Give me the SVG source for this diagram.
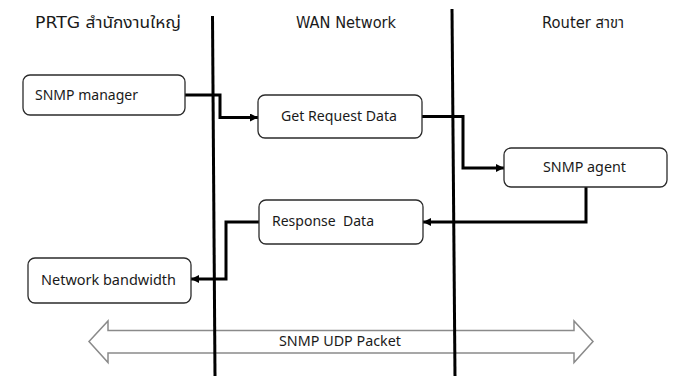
<svg xmlns="http://www.w3.org/2000/svg" width="675" height="376" viewBox="0 0 675 376">
  <style>
    .box { fill: #ffffff; stroke: #2b2b2b; stroke-width: 1.3; }
    .lbl { font-family: "Noto Sans", "Liberation Sans", sans-serif; font-size: 14px; fill: #1a1a1a; }
    .hdr { font-family: "DejaVu Sans", "Noto Sans Thai", "Noto Sans", sans-serif; font-size: 16px; fill: #1a1a1a; }
    .wire { fill: none; stroke: #000000; stroke-width: 3; }
    .lane { stroke: #000000; stroke-width: 3; }
  </style>
  <defs>
    <marker id="head" viewBox="0 0 10 10" refX="10" refY="5" markerWidth="9" markerHeight="8" markerUnits="userSpaceOnUse" orient="auto">
      <path d="M0,0 L10,5 L0,10 Z" fill="#000000"/>
    </marker>
  </defs>

  <rect width="675" height="376" fill="#ffffff"/>

  <!-- column headings -->
  <g id="headings">
    <text class="hdr" x="35" y="28" textLength="146" lengthAdjust="spacingAndGlyphs">PRTG สำนักงานใหญ่</text>
    <text class="hdr" x="296" y="28" textLength="100" lengthAdjust="spacingAndGlyphs">WAN Network</text>
    <text class="hdr" x="542" y="28" textLength="82" lengthAdjust="spacingAndGlyphs">Router สาขา</text>
  </g>

  <!-- UDP packet band -->
  <g id="udp-packet">
    <polygon points="89,341.5 108,321 108,330.5 574,330.5 574,321 593,341.5 574,362.5 574,353 108,353 108,362.5" fill="#ffffff" stroke="#8a8a8a" stroke-width="1.5"/>
    <text class="lbl" x="279" y="345.5" textLength="122" lengthAdjust="spacingAndGlyphs">SNMP UDP Packet</text>
  </g>

  <!-- lane dividers -->
  <g id="dividers">
    <line class="lane" x1="212.5" y1="16" x2="215" y2="376"/>
    <line class="lane" x1="452" y1="9" x2="455" y2="376"/>
  </g>

  <!-- connectors -->
  <g id="connectors">
    <path class="wire" d="M185,95 H220 V117.5 H258" marker-end="url(#head)"/>
    <path class="wire" d="M422,116.5 H463 V168 H504" marker-end="url(#head)"/>
    <path class="wire" d="M586,187 V222 H423" marker-end="url(#head)"/>
    <path class="wire" d="M259,222 H226 V279 H191" marker-end="url(#head)"/>
  </g>

  <g id="snmp-manager">
    <rect class="box" x="23" y="75" width="162" height="40" rx="7"/>
    <text class="lbl" x="35" y="99.5" textLength="103" lengthAdjust="spacingAndGlyphs">SNMP manager</text>
  </g>

  <g id="get-request">
    <rect class="box" x="258" y="95" width="164" height="43" rx="7"/>
    <text class="lbl" x="281" y="121" textLength="116" lengthAdjust="spacingAndGlyphs">Get Request Data</text>
  </g>

  <g id="snmp-agent">
    <rect class="box" x="504" y="148" width="163" height="39" rx="7"/>
    <text class="lbl" x="543" y="172" textLength="83" lengthAdjust="spacingAndGlyphs">SNMP agent</text>
  </g>

  <g id="response-data">
    <rect class="box" x="259" y="200" width="164" height="44" rx="7"/>
    <text class="lbl" x="272" y="226" textLength="102" lengthAdjust="spacingAndGlyphs" xml:space="preserve">Response  Data</text>
  </g>

  <g id="network-bandwidth">
    <rect class="box" x="28" y="258" width="163" height="45" rx="7"/>
    <text class="lbl" x="41" y="284.5" textLength="135" lengthAdjust="spacingAndGlyphs">Network bandwidth</text>
  </g>
</svg>
